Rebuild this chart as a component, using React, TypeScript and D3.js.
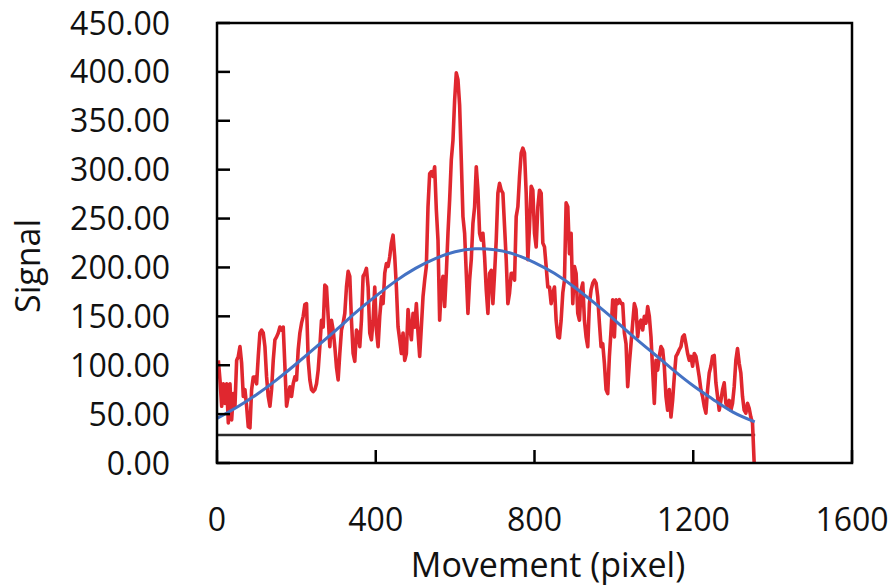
import React from "react";
import * as d3 from "d3";

// ---- data ----
// red signal, sampled on a regular grid starting at x = 3.35, step 4.193
const sampleStart = 3.35;
const sampleStep = 4.193;
const signalA = [105,85,58,81,61,81,41,81,44,71,58,105,109,119,102,68,75,58,37,36,75,88,88,81,109,133,136,133,119,88,68,58,75,105,126,129,133,139,136,139,99,58,68,78,68,81,88,85,116,133,143,150,162,163,105];
const signalB = [85,75,73,75,81,95,119,146,139,182,180,150,119,146,136,119,98,85,112,136,143,153,180,196,191,146,112,104,136,133,119,146,191,194,199,180,133,126,146,180,136,119,150,170,163,194,204,201,211,225,233,211,180,139];
const signalC = [126,112,133,105,112,157,139,126,153,139,163,133,109,139,170,187,201,262,296,298,293,303,259,228,146,180,191,160,194,235,269,310,330,371,399,392,366,310,252,235,194,153,187,208,245,262,303,279,235,228,235,211,177,153];
const signalD = [194,197,163,194,228,276,286,279,276,242,208,163,174,194,194,187,252,262,293,317,322,317,276,208,242,283,279,235,221,262,279,276,225,221,201,180,180,163,174,180,146,129,128,146,174,187,266,262,214,235,163,201,194,153];
const signalE = [146,177,184,146,129,119,163,177,184,187,184,170,143,119,122,102,75,71,109,136,167,129,167,163,167,163,163,133,122,78,102,122,143,163,157,129,143,146,136,150,143,160,150,129,95,61,105,95,109,119,116,99,68,54];
const signalF = [75,47,64,88,109,112,116,119,129,131,122,112,105,109,99,112,109,99,88,75,68,58,51,75,92,99,109,110,82,68,54,64,75,82,61,58,64,54,61,78,105,117,102,92,68,54,51,61,56,47,41,0];

// blue fit curve
const fitX = [0,50,100,150,200,250,300,350,400,450,500,550,600,650,700,750,800,850,900,950,1000,1050,1100,1150,1200,1250,1300,1355];
const fitY = [45.5,57,70,85,101.5,118.7,136,154,170.6,186,199,209,216,219,218,213.4,205,194,180,164,147,129,112,95,79,65,52,42];

// black baseline
const baseX = [0, 1356];
const baseY = [28.6, 28.6];

const xTicks = [0, 400, 800, 1200, 1600];
const yTicks = [0, 50, 100, 150, 200, 250, 300, 350, 400, 450];

const W = 891;
const H = 587;
const M = { left: 217, right: 852, top: 23, bottom: 463 };
const FONT = "'Open Sans', 'Noto Sans', sans-serif";

export default function App() {
  const x = d3.scaleLinear().domain([0, 1600]).range([M.left, M.right]);
  const y = d3.scaleLinear().domain([0, 450]).range([M.bottom, M.top]);

  const signal = [...signalA, ...signalB, ...signalC, ...signalD, ...signalE, ...signalF].map(
    (v, i) => [sampleStart + i * sampleStep, v] as [number, number]
  );
  const fit = fitX.map((v, i) => [v, fitY[i]] as [number, number]);
  const base = baseX.map((v, i) => [v, baseY[i]] as [number, number]);

  const line = d3
    .line<[number, number]>()
    .x((d) => x(d[0]))
    .y((d) => y(d[1]));
  const fitLine = d3
    .line<[number, number]>()
    .x((d) => x(d[0]))
    .y((d) => y(d[1]))
    .curve(d3.curveNatural);

  return (
    <svg
      width={W}
      height={H}
      style={{ position: "absolute", left: 0, top: 0, background: "#fff" }}
    >
      <defs>
        <clipPath id="plot">
          <rect x={M.left} y={M.top} width={M.right - M.left} height={M.bottom - M.top} />
        </clipPath>
      </defs>
      <g clipPath="url(#plot)">
        <path d={line(base) || ""} fill="none" stroke="#2a2a2a" strokeWidth={2.6} />
        <path
          d={line(signal) || ""}
          fill="none"
          stroke="#e0272f"
          strokeWidth={3.6}
          strokeLinejoin="round"
        />
        <path d={fitLine(fit) || ""} fill="none" stroke="#4472c4" strokeWidth={3} />
      </g>
      {/* frame */}
      <rect
        x={M.left}
        y={M.top}
        width={M.right - M.left}
        height={M.bottom - M.top}
        fill="none"
        stroke="#000"
        strokeWidth={2.5}
      />
      {/* y ticks */}
      {yTicks.map((t) => (
        <g key={"y" + t}>
          <line x1={M.left} x2={M.left + 13} y1={y(t)} y2={y(t)} stroke="#000" strokeWidth={2.5} />
          <text
            x={170}
            y={y(t) + 11.5}
            textAnchor="end"
            fontFamily={FONT}
            fontSize={32}
            fill="#111"
          >
            {d3.format(".2f")(t)}
          </text>
        </g>
      ))}
      {/* x ticks */}
      {xTicks.map((t) => (
        <g key={"x" + t}>
          <line x1={x(t)} x2={x(t)} y1={M.bottom} y2={M.bottom - 13} stroke="#000" strokeWidth={2.5} />
          <text
            x={x(t)}
            y={531}
            textAnchor="middle"
            fontFamily={FONT}
            fontSize={32}
            fill="#111"
          >
            {t}
          </text>
        </g>
      ))}
      <text
        x={548}
        y={577}
        textAnchor="middle"
        fontFamily={FONT}
        fontSize={34}
        fill="#111"
      >
        Movement (pixel)
      </text>
      <text
        transform={`translate(40, 266) rotate(-90)`}
        textAnchor="middle"
        fontFamily={FONT}
        fontSize={34}
        fill="#111"
      >
        Signal
      </text>
    </svg>
  );
}
